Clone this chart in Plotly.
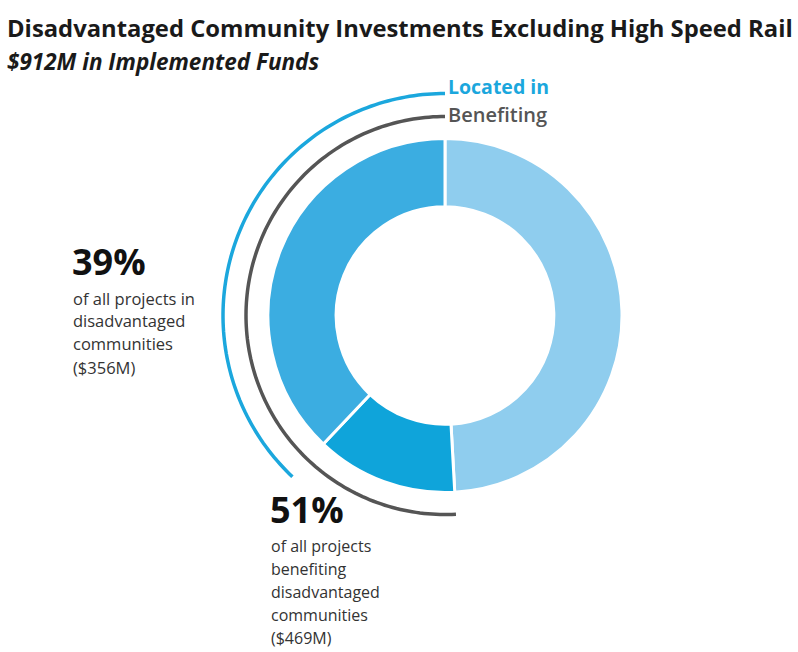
import plotly.graph_objects as go
import numpy as np

# ---- data (slice sizes read from the drawn arcs, $M; total 912) ----
slice_labels = ["Not benefiting", "Located in", "Benefiting (not located in)"]
slice_values = [448, 346, 118]
slice_colors = ["#8fcdee", "#3badE1", "#0fa4da"]
located_pct = "39%"
benefit_pct = "51%"
located_lines = ["of all projects in", "disadvantaged", "communities", "($356M)"]
benefit_lines = ["of all projects", "benefiting", "disadvantaged", "communities", "($469M)"]

W, H = 798, 652
CX, CY, R = 445, 315.5, 177     # donut centre / radius in px
PR = 232                         # polar helper radius in px

total = sum(slice_values)
# clockwise from 12 o'clock: Not benefiting, Benefiting-only, Located in
order_vals = [slice_values[0], slice_values[2], slice_values[1]]
order_cols = [slice_colors[0], slice_colors[2], slice_colors[1]]
order_labs = [slice_labels[0], slice_labels[2], slice_labels[1]]
cum = np.cumsum([0] + order_vals) / total * 360.0

def px_x(x):
    return x / W

def px_y(y):
    return 1 - y / H

fig = go.Figure()
fig.add_trace(go.Pie(
    values=order_vals, labels=order_labs, sort=False, direction="clockwise",
    rotation=0, hole=0.615, textinfo="none", hoverinfo="label+value",
    marker=dict(colors=order_cols, line=dict(color="white", width=3)),
    domain=dict(x=[px_x(CX - R), px_x(CX + R)], y=[px_y(CY + R), px_y(CY - R)]),
    showlegend=False,
))

# "Located in" arc spans the located-in slice
th_loc = np.linspace(cum[2], cum[3], 120)
fig.add_trace(go.Scatterpolar(r=[222] * len(th_loc), theta=th_loc, mode="lines",
                              line=dict(color="#1ba7dd", width=3.5), showlegend=False,
                              hoverinfo="skip"))
# "Benefiting" arc spans benefiting-only + located-in slices
th_ben = np.linspace(cum[1], cum[3], 160)
fig.add_trace(go.Scatterpolar(r=[199] * len(th_ben), theta=th_ben, mode="lines",
                              line=dict(color="#555555", width=3.5), showlegend=False,
                              hoverinfo="skip"))

fig.update_layout(
    width=W, height=H, margin=dict(l=0, r=0, t=0, b=0),
    paper_bgcolor="white", plot_bgcolor="white",
    polar=dict(
        domain=dict(x=[px_x(CX - PR), px_x(CX + PR)], y=[px_y(CY + PR), px_y(CY - PR)]),
        bgcolor="rgba(0,0,0,0)",
        radialaxis=dict(range=[0, PR], visible=False, showgrid=False),
        angularaxis=dict(rotation=90, direction="clockwise", visible=False, showgrid=False),
    ),
)

ann = []
def add(text, x, y, size, color, bold=False, italic=False, weight=None, family="Open Sans"):
    t = text
    if bold:
        t = f"<b>{t}</b>"
    if italic:
        t = f"<i>{t}</i>"
    f = dict(size=size, color=color, family=family)
    if weight:
        f["weight"] = weight
    ann.append(dict(text=t, x=px_x(x), y=px_y(y), xref="paper", yref="paper",
                    xanchor="left", yanchor="middle", showarrow=False, font=f))

add("Disadvantaged Community Investments Excluding High Speed Rail", 5, 28, 23.8, "#1a1a1a", bold=True)
add("$912M in Implemented Funds", 5, 61, 22.5, "#1a1a1a", bold=True, italic=True)
add("Located in", 446, 86, 19.5, "#1ba7dd", bold=True)
add("Benefiting", 446, 114, 20, "#555555", weight=600)

add(located_pct, 70, 261, 36, "#111111", bold=True)
for i, line in enumerate(located_lines):
    add(line, 71, 298 + i * 23, 16.5, "#333333")

add(benefit_pct, 268, 509.5, 36, "#111111", bold=True)
for i, line in enumerate(benefit_lines):
    add(line, 269, 545.5 + i * 23.2, 16, "#333333")

fig.update_layout(annotations=ann)
fig.write_html("out.html")
